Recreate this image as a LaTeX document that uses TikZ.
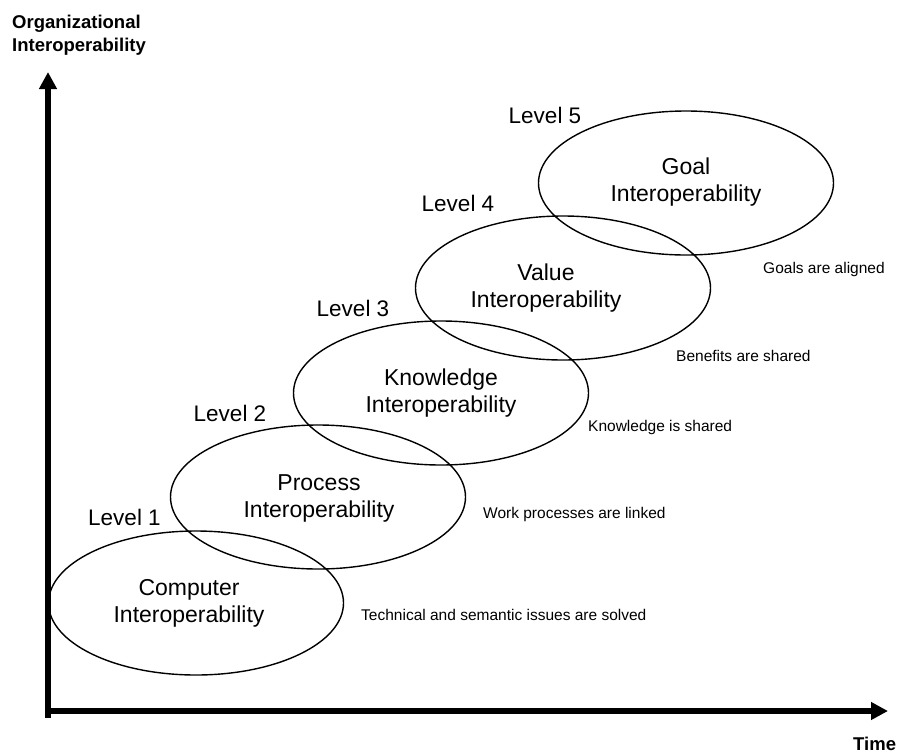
\documentclass[tikz,border=0pt]{standalone}
\usepackage{fontspec}
\setmainfont{Liberation Sans}
\usetikzlibrary{shapes.geometric,arrows.meta}
\begin{document}
\begin{tikzpicture}[x=1pt,y=-1pt,
  levelbox/.style={ellipse,draw,line width=1.4pt,minimum width=295pt,minimum height=144pt,inner sep=0pt},
  inbox/.style={align=center,inner sep=0pt,font=\fontsize{23}{27}\selectfont},
  lvl/.style={anchor=base,inner sep=0pt,font=\fontsize{22.5}{27}\selectfont},
  note/.style={anchor=base west,inner sep=0pt,font=\fontsize{15.5}{18}\selectfont},
  axislabel/.style={inner sep=0pt,font=\fontsize{18.5}{23}\selectfont\bfseries},
  axis/.style={line width=6.5pt,-{Triangle[length=17pt,width=17pt]}}]
\useasboundingbox (0,0) rectangle (897,753);
% axes
\coordinate (yo) at (48,718);
\coordinate (ytip) at (48,72);
\coordinate (xo) at (45,711);
\coordinate (xtip) at (888,711);
\draw[axis] (yo) -- (ytip);
\draw[axis] (xo) -- (xtip);
\node[axislabel,anchor=north west,align=left] (ylab) at (12,15) {Organizational\\Interoperability};
\node[axislabel,anchor=base west] (xlab) at (853,750) {Time};
% ellipses
\node[levelbox] (e1) at (196,603) {};
\node[levelbox] (e2) at (318,497) {};
\node[levelbox] (e3) at (441,393) {};
\node[levelbox] (e4) at (563,288) {};
\node[levelbox] (e5) at (686,183) {};
% ellipse texts
\node[inbox] (t1) at (189,603.5) {Computer\\Interoperability};
\node[inbox] (t2) at (319,498) {Process\\Interoperability};
\node[inbox] (t3) at (441,393) {Knowledge\\Interoperability};
\node[inbox] (t4) at (546,288) {Value\\Interoperability};
\node[inbox] (t5) at (686,182) {Goal\\Interoperability};
% levels
\node[lvl] (l1) at (124.5,525) {Level 1};
\node[lvl] (l2) at (230,421) {Level 2};
\node[lvl] (l3) at (353,316) {Level 3};
\node[lvl] (l4) at (458,211) {Level 4};
\node[lvl] (l5) at (545,123) {Level 5};
% notes
\node[note] (n1) at (361,620.5) {Technical and semantic issues are solved};
\node[note] (n2) at (483,518.5) {Work processes are linked};
\node[note] (n3) at (588,431.5) {Knowledge is shared};
\node[note] (n4) at (676,361.5) {Benefits are shared};
\node[note] (n5) at (763,273.5) {Goals are aligned};
\end{tikzpicture}
\end{document}
